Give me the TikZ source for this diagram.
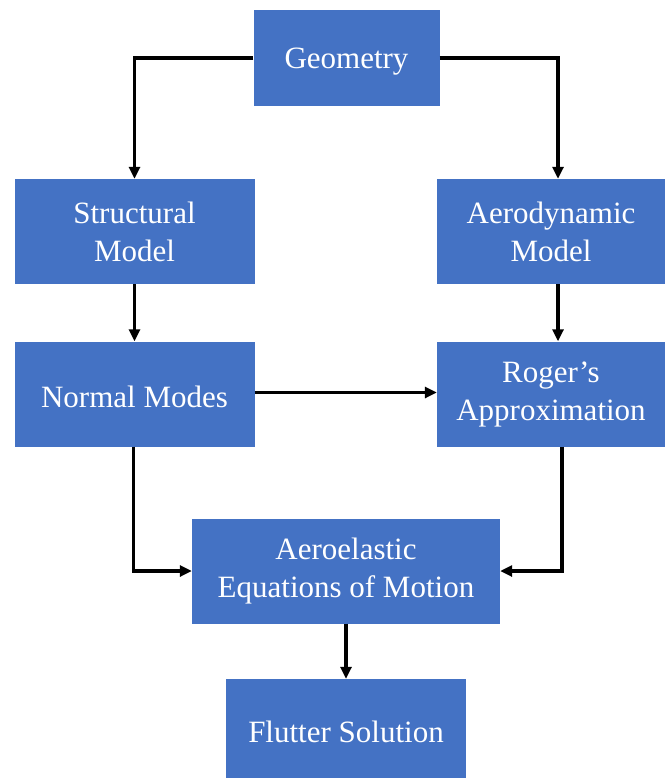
\documentclass[tikz,border=0pt]{standalone}
\usepackage{fontspec}
\setmainfont{Liberation Serif}
\usetikzlibrary{arrows.meta}
\definecolor{boxblue}{HTML}{4472C4}
\newcommand{\lowstrut}{\rule{0pt}{28pt}}
\tikzset{
  blockbox/.style={rectangle, fill=boxblue, draw=none, text=white, align=center,
    inner sep=0pt, font=\fontsize{31}{38}\selectfont},
  conn/.style={line width=3.2pt, -{Triangle[length=12pt,width=11pt]}}
}
\begin{document}
\begin{tikzpicture}[x=1pt,y=-1pt]
\useasboundingbox (0,0) rectangle (665,778);
\node[blockbox, minimum width=186pt, minimum height=96pt] (geo) at (346.5,58) {\lowstrut Geometry};
\node[blockbox, minimum width=240pt, minimum height=105pt] (struct) at (134.5,231.5) {Structural\\Model};
\node[blockbox, minimum width=228pt, minimum height=105pt] (aero) at (551,231.5) {Aerodynamic\\Model};
\node[blockbox, minimum width=240pt, minimum height=105pt] (normal) at (134.5,394) {\lowstrut Normal Modes};
\node[blockbox, minimum width=228pt, minimum height=105pt] (roger) at (551,394) {Roger’s\\Approximation};
\node[blockbox, minimum width=308pt, minimum height=105pt] (aeroel) at (346,571) {Aeroelastic\\Equations of Motion};
\node[blockbox, minimum width=240pt, minimum height=100pt] (flutter) at (346,729) {\lowstrut Flutter Solution};
\draw[conn] (geo.west) -| (struct.north);
\draw[conn] (geo.east) -| ([xshift=7pt]aero.north);
\draw[conn] (struct.south) -- (normal.north);
\draw[conn] ([xshift=7pt]aero.south) -- ([xshift=7pt]roger.north);
\draw[conn] ([yshift=1.5pt]normal.east) -- ([yshift=1.5pt]roger.west);
\draw[conn] ([xshift=-1pt]normal.south) |- (aeroel.west);
\draw[conn] ([xshift=11pt]roger.south) |- (aeroel.east);
\draw[conn] (aeroel.south) -- (flutter.north);
\end{tikzpicture}
\end{document}
